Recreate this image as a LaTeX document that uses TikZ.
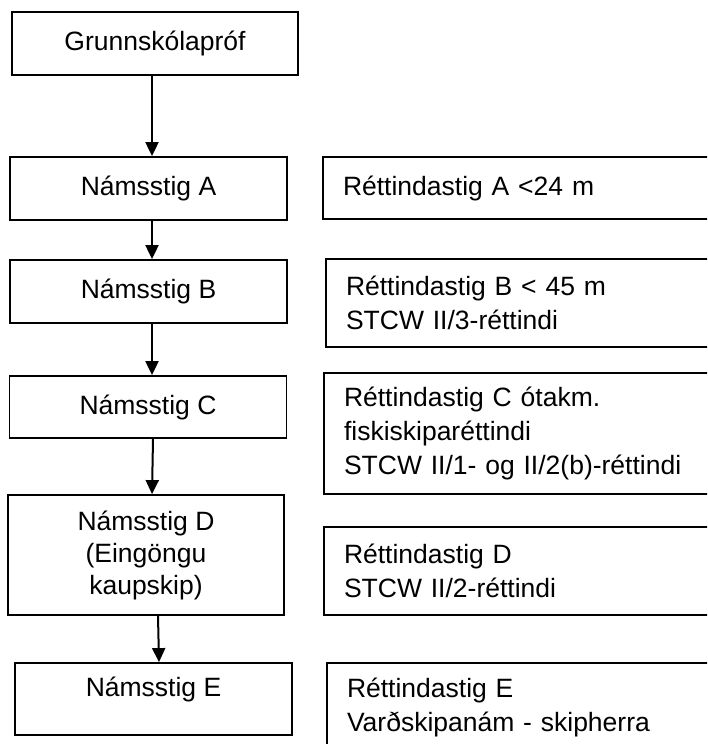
\documentclass[tikz,border=0pt]{standalone}
\usepackage{fontspec}
\setmainfont{Liberation Sans}
\usetikzlibrary{arrows.meta}

\newcommand\rbreite{357pt}

\begin{document}
\begin{tikzpicture}[x=1pt,y=-1pt,
  stufe/.style={draw,line width=1.8pt,inner sep=0pt,align=center,
    font=\fontsize{26.5}{32}\selectfont},
  recht/.style={draw,line width=1.8pt,inner xsep=20pt,inner ysep=0pt,align=left,
    text width=\rbreite,font=\fontsize{26.5}{34}\selectfont},
  pfeil/.style={line width=2pt,-{Triangle[length=14pt,width=13pt]}}]

\clip (0,0) rectangle (707,744);

% Variablen
\def\lbreite{277pt}

% Namsstig
\draw (155,43.5) node[stufe,minimum width=286pt,minimum height=63pt] (Grunnskolaprof) {Grunnskólapróf};
\draw (148.5,188.5) node[stufe,minimum width=\lbreite,minimum height=63pt] (StigA) {Námsstig A};
\draw (148.5,291.5) node[stufe,minimum width=\lbreite,minimum height=63pt] (StigB) {Námsstig B};
\draw (148,407) node[stufe,minimum width=\lbreite,minimum height=62pt] (StigC) {Námsstig C};
\draw (146,555) node[stufe,minimum width=276pt,minimum height=120pt] (StigD) {Námsstig D\\(Eingöngu\\kaupskip)};
\draw (153.5,699) node[stufe,minimum width=277pt,minimum height=72pt,text depth=24pt] (StigE) {Námsstig E};

% Rettindastig
\draw (521.5,188) node[recht,minimum height=62pt] (RettA) {Réttindastig A <24 m};
\draw (524.5,303) node[recht,minimum height=88pt] (RettB) {Réttindastig B < 45 m\\STCW II/3-réttindi};
\draw (522.5,433.5) node[recht,minimum height=121pt] (RettC) {Réttindastig C ótakm.\\fiskiskiparéttindi\\STCW II/1- og II/2(b)-réttindi};
\draw (522.5,571) node[recht,minimum height=88pt] (RettD) {Réttindastig D\\STCW II/2-réttindi};
\draw (525.5,707.5) node[recht,minimum height=89pt] (RettE) {Réttindastig E\\Varðskipanám - skipherra};

% Pfeile
\draw[pfeil] ([xshift=-3pt]Grunnskolaprof.south) -- ([xshift=3.5pt]StigA.north);
\draw[pfeil] ([xshift=3.5pt]StigA.south) -- ([xshift=3.5pt]StigB.north);
\draw[pfeil] ([xshift=3.5pt]StigB.south) -- ([xshift=4pt]StigC.north);
\draw[pfeil] ([xshift=5pt]StigC.south) -- ([xshift=6pt]StigD.north);
\draw[pfeil] ([xshift=12pt]StigD.south) -- ([xshift=5.5pt]StigE.north);

\end{tikzpicture}
\end{document}
